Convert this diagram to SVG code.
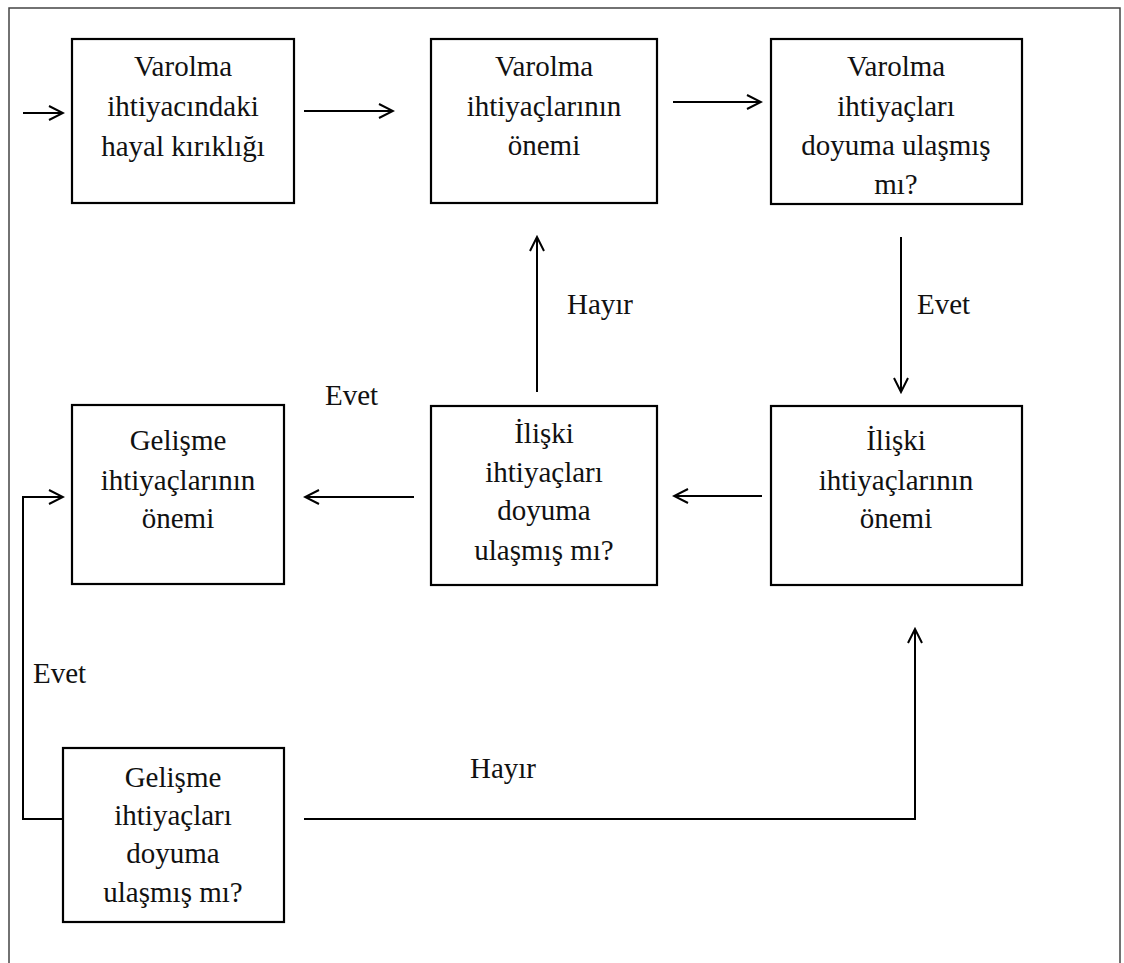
<svg xmlns="http://www.w3.org/2000/svg" width="1124" height="963" viewBox="0 0 1124 963">
<defs>
<marker id="ah" viewBox="0 0 18 18" refX="16" refY="9" markerWidth="18" markerHeight="18" markerUnits="userSpaceOnUse" orient="auto">
<path d="M2,2 L16,9 L2,16" fill="none" stroke="#000" stroke-width="2"/>
</marker>
<style>
.box{fill:#fff;stroke:#000;stroke-width:2.2}
.t{font-family:'Liberation Serif','Tinos','DejaVu Serif','Times New Roman',Times,serif;font-size:29px;fill:#111;text-anchor:middle}
.lbl{font-family:'Liberation Serif','Tinos','DejaVu Serif','Times New Roman',Times,serif;font-size:29px;fill:#111}
.c{fill:none;stroke:#000;stroke-width:2}
.frame{fill:none;stroke:#444;stroke-width:1.5}
</style>
</defs>
<rect width="1124" height="963" fill="#fff"/>
<path class="frame" d="M9,970 L9,8 L1120,8 L1120,970"/>

<g id="connectors">
<line class="c" x1="23" y1="113" x2="63" y2="113" marker-end="url(#ah)"/>
<line class="c" x1="304" y1="111" x2="393" y2="111" marker-end="url(#ah)"/>
<line class="c" x1="673" y1="102" x2="761" y2="102" marker-end="url(#ah)"/>
<line class="c" x1="901" y1="237" x2="901" y2="392" marker-end="url(#ah)"/>
<line class="c" x1="537" y1="392" x2="537" y2="237" marker-end="url(#ah)"/>
<line class="c" x1="762" y1="496" x2="674" y2="496" marker-end="url(#ah)"/>
<line class="c" x1="414" y1="497" x2="305" y2="497" marker-end="url(#ah)"/>
<path class="c" d="M63,819 L23,819 L23,497 L63,497" marker-end="url(#ah)"/>
<path class="c" d="M304,819 L915,819 L915,629" marker-end="url(#ah)"/>
<text class="lbl" x="917" y="314" font-family="Liberation Serif, DejaVu Serif, serif">Evet</text>
<text class="lbl" x="567" y="314" font-family="Liberation Serif, DejaVu Serif, serif">Hayır</text>
<text class="lbl" x="325" y="405" font-family="Liberation Serif, DejaVu Serif, serif">Evet</text>
<text class="lbl" x="33" y="683" font-family="Liberation Serif, DejaVu Serif, serif">Evet</text>
<text class="lbl" x="470" y="778" font-family="Liberation Serif, DejaVu Serif, serif">Hayır</text>
</g>

<g id="n1">
<rect class="box" x="72" y="39" width="222" height="164"/>
<text class="t" x="183" y="76">Varolma</text>
<text class="t" x="183" y="116">ihtiyacındaki</text>
<text class="t" x="183" y="156">hayal kırıklığı</text>
</g>
<g id="n2">
<rect class="box" x="431" y="39" width="226" height="164"/>
<text class="t" x="544" y="76">Varolma</text>
<text class="t" x="544" y="116">ihtiyaçlarının</text>
<text class="t" x="544" y="155">önemi</text>
</g>
<g id="n3">
<rect class="box" x="771" y="39" width="251" height="165"/>
<text class="t" x="896" y="76">Varolma</text>
<text class="t" x="896" y="116">ihtiyaçları</text>
<text class="t" x="896" y="155">doyuma ulaşmış</text>
<text class="t" x="896" y="194">mı?</text>
</g>
<g id="n4">
<rect class="box" x="72" y="405" width="212" height="179"/>
<text class="t" x="178" y="450">Gelişme</text>
<text class="t" x="178" y="490">ihtiyaçlarının</text>
<text class="t" x="178" y="528">önemi</text>
</g>
<g id="n5">
<rect class="box" x="431" y="406" width="226" height="179"/>
<text class="t" x="544" y="443">İlişki</text>
<text class="t" x="544" y="482">ihtiyaçları</text>
<text class="t" x="544" y="520">doyuma</text>
<text class="t" x="544" y="560">ulaşmış mı?</text>
</g>
<g id="n6">
<rect class="box" x="771" y="406" width="251" height="179"/>
<text class="t" x="896" y="450">İlişki</text>
<text class="t" x="896" y="490">ihtiyaçlarının</text>
<text class="t" x="896" y="528">önemi</text>
</g>
<g id="n7">
<rect class="box" x="63" y="748" width="221" height="174"/>
<text class="t" x="173" y="787">Gelişme</text>
<text class="t" x="173" y="825">ihtiyaçları</text>
<text class="t" x="173" y="863">doyuma</text>
<text class="t" x="173" y="902">ulaşmış mı?</text>
</g>
</svg>
